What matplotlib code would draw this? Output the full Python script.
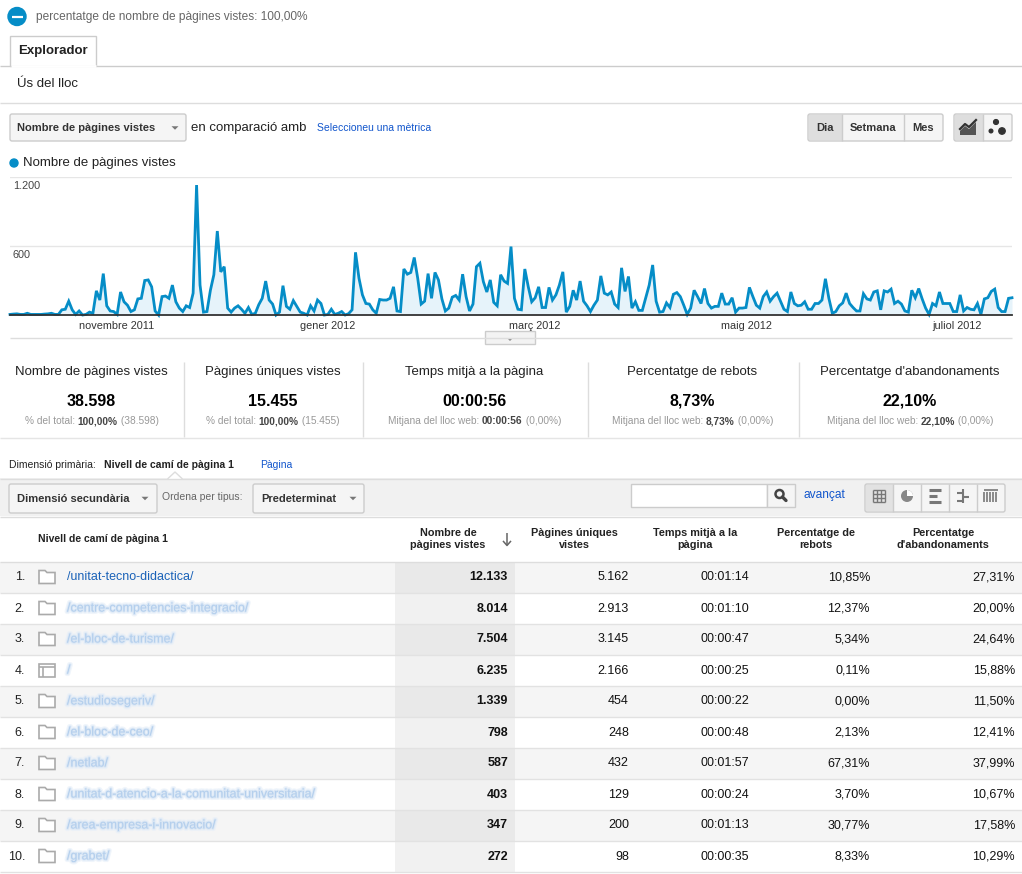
import numpy as np
import matplotlib
matplotlib.use('Agg')
import matplotlib.pyplot as plt
import matplotlib.patches as mpatches
import matplotlib.patheffects as pe
import matplotlib.dates as mdates
from matplotlib.ticker import FuncFormatter

plt.rcParams['font.family'] = ['Liberation Sans', 'DejaVu Sans']

# pàgines vistes per dia, 1 oct 2011 - 17 jul 2012
start = np.datetime64('2011-10-01')
daily_views = [
    5, 8, 10, 5, 5, 15, 5, 5, 5, 5, 8, 10, 15, 5, 5,
    45, 50, 120, 45, 5, 35, 0, 5, 25, 15, 210, 130, 360, 80, 35,
    30, 5, 200, 115, 85, 30, 45, 140, 145, 300, 305, 245, 35, 0, 160,
    165, 145, 260, 115, 60, 30, 80, 65, 190, 1130, 260, 25, 30, 215, 350,
    730, 375, 420, 60, 25, 60, 80, 50, 15, 65, 5, 15, 90, 145, 295,
    130, 95, 0, 25, 255, 75, 50, 125, 75, 25, 15, 0, 80, 35, 130,
    100, 0, 5, 50, 5, 15, 30, 0, 12, 45, 545, 320, 175, 100, 95,
    45, 15, 135, 130, 130, 145, 245, 35, 30, 400, 355, 370, 500, 320, 95,
    120, 360, 145, 370, 305, 140, 35, 60, 155, 170, 130, 355, 160, 35, 95,
    420, 450, 290, 200, 305, 110, 80, 350, 295, 275, 595, 145, 50, 45, 400,
    245, 115, 150, 245, 65, 65, 240, 130, 175, 260, 375, 25, 75, 215, 130,
    295, 120, 80, 30, 85, 130, 340, 190, 175, 200, 95, 65, 410, 205, 335,
    60, 115, 40, 40, 150, 260, 435, 120, 25, 30, 105, 65, 180, 195, 160,
    85, 5, 60, 215, 160, 100, 230, 100, 60, 75, 75, 190, 95, 95, 150,
    25, 60, 60, 65, 240, 160, 85, 60, 160, 200, 120, 160, 190, 120, 50,
    30, 200, 100, 80, 85, 115, 50, 50, 100, 100, 130, 315, 145, 15, 30,
    80, 105, 190, 100, 65, 35, 35, 185, 140, 130, 200, 210, 45, 210, 200,
    225, 100, 120, 95, 35, 25, 215, 150, 230, 140, 60, 5, 100, 80, 200,
    100, 100, 100, 30, 30, 175, 35, 65, 50, 45, 100, 5, 140, 150, 205,
    225, 65, 30, 30, 145, 150,
]
dates = start + np.arange(len(daily_views))
month_names = {11: 'novembre', 1: 'gener', 3: 'març', 5: 'maig', 7: 'juliol'}

# quadre de resum
card_titles = ['Nombre de pàgines vistes', 'Pàgines úniques vistes', 'Temps mitjà a la pàgina',
               'Percentatge de rebots', "Percentatge d'abandonaments"]
card_values = ['38.598', '15.455', '00:00:56', '8,73%', '22,10%']
card_prefix = ['% del total: ', '% del total: ', 'Mitjana del lloc web: ',
               'Mitjana del lloc web: ', 'Mitjana del lloc web: ']
card_bold = ['100,00%', '100,00%', '00:00:56', '8,73%', '22,10%']
card_suffix = [' (38.598)', ' (15.455)', ' (0,00%)', ' (0,00%)', ' (0,00%)']

# taula
pages = ['/unitat-tecno-didactica/', '/centre-competencies-integracio/', '/el-bloc-de-turisme/', '/',
         '/estudiosegeriv/', '/el-bloc-de-ceo/', '/netlab/',
         '/unitat-d-atencio-a-la-comunitat-universitaria/', '/area-empresa-i-innovacio/', '/grabet/']
page_views = ['12.133', '8.014', '7.504', '6.235', '1.339', '798', '587', '403', '347', '272']
unique_views = ['5.162', '2.913', '3.145', '2.166', '454', '248', '432', '129', '200', '98']
avg_time = ['00:01:14', '00:01:10', '00:00:47', '00:00:25', '00:00:22', '00:00:48', '00:01:57',
            '00:00:24', '00:01:13', '00:00:35']
bounce = ['10,85%', '12,37%', '5,34%', '0,11%', '0,00%', '2,13%', '67,31%', '3,70%', '30,77%', '8,33%']
exits = ['27,31%', '20,00%', '24,64%', '15,88%', '11,50%', '12,41%', '37,99%', '10,67%', '17,58%', '10,29%']
col_headers = ['Nombre de\npàgines vistes', 'Pàgines úniques\nvistes', 'Temps mitjà a la\npàgina',
               'Percentatge de\nrebots', "Percentatge\nd'abandonaments"]

W, H = 1022, 874
BLUE = '#058dc7'
LINK = '#1155cc'
fig = plt.figure(figsize=(W / 100, H / 100), dpi=100)
ax = fig.add_axes([0, 0, 1, 1])
ax.set_xlim(0, W)
ax.set_ylim(H, 0)
ax.axis('off')
renderer = fig.canvas.get_renderer()


def txt(x, y, s, size=9, color='#222222', weight='normal', ha='left', **kw):
    return ax.text(x, y, s, fontsize=size, color=color, fontweight=weight, ha=ha, va='center', **kw)


def hline(y, x0, x1, color='#dddddd', lw=1):
    ax.plot([x0, x1], [y, y], color=color, lw=lw, solid_capstyle='butt')


def vline(x, y0, y1, color='#dddddd', lw=1):
    ax.plot([x, x], [y0, y1], color=color, lw=lw, solid_capstyle='butt')


def box(x0, y0, x1, y1, fc='#f5f5f5', ec='#cccccc', lw=1, r=2):
    ax.add_patch(mpatches.FancyBboxPatch((x0, y0), x1 - x0, y1 - y0,
                                         boxstyle='round,pad=0,rounding_size=%d' % r,
                                         fc=fc, ec=ec, lw=lw))


def arrow_down(x, y, s=3.5, color='#777777'):
    ax.add_patch(mpatches.Polygon([(x - s, y - s / 2), (x + s, y - s / 2), (x, y + s / 2)],
                                  closed=True, fc=color, ec='none'))


def rich(x, y, parts, size, ha='left'):
    objs = [txt(0, y, s, size=size, color=c, weight=w) for s, w, c in parts]
    widths = [t.get_window_extent(renderer).width for t in objs]
    x0 = x - sum(widths) / 2 if ha == 'center' else x
    for t, w in zip(objs, widths):
        t.set_x(x0)
        x0 += w


# capçalera
ax.add_patch(mpatches.Circle((17, 16.5), 9, color=BLUE))
hline(16.5, 11.5, 22.5, color='white', lw=1.6)
txt(36, 17, 'percentatge de nombre de pàgines vistes: 100,00%', size=8.6, color='#666666')
hline(65.5, 0, W, color='#cccccc')
ax.add_patch(mpatches.Rectangle((10, 36), 86, 30, fc='white', ec='#cccccc', lw=1))
hline(66, 10.5, 95.5, color='white', lw=2)
txt(18, 51, 'Explorador', size=9.5, weight='bold')
txt(17, 84, 'Ús del lloc', size=9.5)
hline(102.5, 0, W, color='#dddddd')

box(10, 114, 186, 141)
txt(17, 128, 'Nombre de pàgines vistes', size=8, weight='bold', color='#333333')
arrow_down(175, 128)
txt(191, 128, 'en comparació amb', size=9.5)
txt(317, 128, 'Seleccioneu una mètrica', size=7.5, color=LINK)

box(808, 114, 943, 141)
ax.add_patch(mpatches.Rectangle((809, 115), 33, 25, fc='#dedede', ec='none'))
vline(842, 114, 141, color='#cccccc')
vline(904, 114, 141, color='#cccccc')
txt(825, 128, 'Dia', size=8, weight='bold', ha='center', color='#333333')
txt(873, 128, 'Setmana', size=8, weight='bold', ha='center', color='#333333')
txt(923.5, 128, 'Mes', size=8, weight='bold', ha='center', color='#333333')

box(954, 114, 1012, 141)
ax.add_patch(mpatches.Rectangle((955, 115), 28, 25, fc='#dedede', ec='none'))
vline(983, 114, 141, color='#cccccc')
ax.add_patch(mpatches.Polygon([(960, 135), (960, 131), (965, 126), (969, 129), (976, 122), (976, 135)],
                              closed=True, fc='#555555', ec='none'))
ax.plot([960, 965, 969, 976], [129, 124, 127, 120], color='#333333', lw=1.6)
ax.add_patch(mpatches.Circle((996, 122), 2.4, color='#333333'))
ax.add_patch(mpatches.Circle((991, 131), 1.8, color='#333333'))
ax.add_patch(mpatches.Circle((1002, 131), 3.2, color='#333333'))

ax.add_patch(mpatches.Circle((14, 163), 4, color=BLUE))
txt(23, 163, 'Nombre de pàgines vistes', size=9.5)

# gràfic
cax = fig.add_axes([10 / W, 1 - 315 / H, 1002 / W, 138 / H])
cax.set_facecolor('none')
cax.fill_between(dates, daily_views, color='#e6f3fa', lw=0)
cax.plot(dates, daily_views, color=BLUE, lw=2, clip_on=False, solid_joinstyle='miter')
cax.set_xlim(dates[0], dates[-1])
cax.set_ylim(0, 1200)
cax.set_yticks([600, 1200])
cax.yaxis.grid(True, color='#e6e6e6', lw=1)
cax.set_axisbelow(True)
cax.tick_params(axis='y', length=0, labelleft=False)
for v in [1200, 600]:
    cax.annotate('{:,}'.format(v).replace(',', '.'), xy=(0, v), xycoords=('axes fraction', 'data'),
                 xytext=(2, -3), textcoords='offset points', va='top', ha='left',
                 fontsize=7.8, color='#444444')
cax.xaxis.set_major_locator(mdates.MonthLocator(bymonth=list(month_names)))
cax.xaxis.set_major_formatter(FuncFormatter(
    lambda v, p: '%s %d' % (month_names[mdates.num2date(v).month], mdates.num2date(v).year)))
cax.tick_params(axis='x', length=0, pad=4, labelsize=7.8, labelcolor='#333333')
for s in ['top', 'left', 'right']:
    cax.spines[s].set_visible(False)
cax.spines['bottom'].set_color('#333333')
cax.spines['bottom'].set_linewidth(1.3)

hline(337.5, 10, 1012, color='#dddddd')
ax.add_patch(mpatches.Rectangle((485, 331), 50, 13, fc='#f3f3f3', ec='#cccccc', lw=1))
arrow_down(510, 339.5, s=3, color='#888888')

# quadre de resum
card_edges = [0, 183, 362, 587, 798, W]
for k in range(5):
    cx = (card_edges[k] + card_edges[k + 1]) / 2
    txt(cx, 372, card_titles[k], size=9.5, ha='center')
    txt(cx, 401, card_values[k], size=11.5, weight='bold', ha='center', color='black')
    rich(cx, 421, [(card_prefix[k], 'normal', '#999999'), (card_bold[k], 'bold', '#444444'),
                   (card_suffix[k], 'normal', '#999999')], size=7.3, ha='center')
for x in card_edges[1:-1]:
    vline(x + 0.5, 362, 437, color='#dddddd')
hline(437.5, 0, W, color='#e5e5e5')

# dimensió i barra d'eines
txt(9, 465, 'Dimensió primària:', size=7.5, color='#222222')
txt(104, 465, 'Nivell de camí de pàgina 1', size=7.5, weight='bold', color='#222222')
txt(260, 465, 'Pàgina', size=7.5, color=LINK)
ax.add_patch(mpatches.Rectangle((0, 478), W, 38, fc='#f1f1f1', ec='none'))
hline(478.5, 0, W, color='#dddddd')
ax.add_patch(mpatches.Polygon([(168, 479), (175, 472), (182, 479)], closed=True, fc='white', ec='none'))
ax.plot([168, 175, 182], [478.5, 472, 478.5], color='#dddddd', lw=1)

box(9, 484, 157, 513)
txt(17, 498.5, 'Dimensió secundària', size=8, weight='bold', color='#333333')
arrow_down(145, 498.5)
txt(162, 497, 'Ordena per tipus:', size=7.5, color='#666666')
box(253, 484, 364, 513)
txt(261, 498.5, 'Predeterminat', size=8, weight='bold', color='#333333')
arrow_down(353, 498.5)

ax.add_patch(mpatches.Rectangle((631, 484), 136, 23, fc='white', ec='#cccccc', lw=1))
ax.add_patch(mpatches.Rectangle((767, 484), 28, 23, fc='#f5f5f5', ec='#cccccc', lw=1))
ax.add_patch(mpatches.Circle((779.5, 494), 4, fc='none', ec='#444444', lw=1.8))
ax.plot([782.5, 786], [497, 500.5], color='#444444', lw=2.4, solid_capstyle='round')
txt(803, 495, 'avançat', size=8.6, color=LINK)

box(865, 484, 1005, 512)
ax.add_patch(mpatches.Rectangle((866, 485), 27, 26, fc='#e2e2e2', ec='none'))
for x in [893, 921, 949, 977]:
    vline(x, 484, 512, color='#cccccc')
ic = '#777777'
for g in range(4):
    vline(873 + g * 4, 490, 502, color=ic)
    hline(490 + g * 4, 873, 885, color=ic)
ax.add_patch(mpatches.Circle((907, 496), 6, fc='#888888', ec='none'))
ax.add_patch(mpatches.Wedge((907, 496), 6, 270, 360, fc='white', ec='none'))
for yb, wb in [(490, 12), (496, 8), (502, 12)]:
    hline(yb, 929, 929 + wb, color=ic, lw=2.2)
vline(963, 489, 503, color=ic, lw=1.5)
hline(493, 957, 963, color=ic, lw=1.5)
hline(497, 963, 969, color=ic, lw=1.5)
hline(501, 957, 963, color=ic, lw=1.5)
for xb in range(984, 999, 3):
    vline(xb, 492, 502, color=ic, lw=1.2)
hline(490, 984, 998, color=ic, lw=1.2)

# taula
hline(516.5, 0, W, color='#dddddd')
txt(38, 539, 'Nivell de camí de pàgina 1', size=7.5, weight='bold')
head_x = [448, 574, 695, 816, 943]
for hx, h in zip(head_x, col_headers):
    ax.text(hx, 539, h, fontsize=7.8, fontweight='bold', color='#222222', ha='center', va='center',
            linespacing=1.35)
vline(507, 533, 545, color='#666666', lw=1.1)
ax.plot([503.5, 507, 510.5], [541.5, 545.5, 541.5], color='#666666', lw=1.1)
hline(561.5, 0, W, color='#dddddd')

value_cols = [(508, page_views, 'bold'), (629, unique_views, 'normal'), (749, avg_time, 'normal'),
              (870, bounce, 'normal'), (1015, exits, 'normal')]
blur = [pe.Stroke(linewidth=3.5, foreground='#e6eff9', alpha=0.6),
        pe.Stroke(linewidth=1.6, foreground='#d0e1f4', alpha=0.6), pe.Normal()]
for k, page in enumerate(pages):
    y0 = 562 + 31 * k
    yc = y0 + 15.5
    ax.add_patch(mpatches.Rectangle((0, y0), W, 31, fc='#f5f5f5' if k % 2 == 0 else 'white', ec='none'))
    ax.add_patch(mpatches.Rectangle((395, y0), 120, 31, fc='#e9e9e9' if k % 2 == 0 else '#f1f1f1',
                                    ec='none'))
    hline(y0 + 31, 0, W, color='#e2e2e2')
    txt(25, yc, '%d.' % (k + 1), size=9, ha='right')
    if page == '/':
        ax.add_patch(mpatches.Rectangle((39, yc - 7), 16, 13, fc='white', ec='#aaaaaa', lw=1.2))
        hline(yc - 3.5, 39, 55, color='#aaaaaa', lw=1.2)
        vline(43, yc - 3.5, yc + 6, color='#aaaaaa', lw=1.2)
    else:
        ax.add_patch(mpatches.Polygon([(39, yc - 7), (45, yc - 7), (47, yc - 5), (55, yc - 5),
                                       (55, yc + 6), (39, yc + 6)], closed=True,
                                      fc='white', ec='#aaaaaa', lw=1.2))
    if k == 0:
        txt(67, yc, page, size=9, color='#1a62b8')
    else:
        txt(67, yc, page, size=9, color='#b4cfed', path_effects=blur)
    for cx, vals, wt in value_cols:
        txt(cx, yc, vals[k], size=9, weight=wt, ha='right', color='#111111')

fig.savefig('out.png', dpi=100)
